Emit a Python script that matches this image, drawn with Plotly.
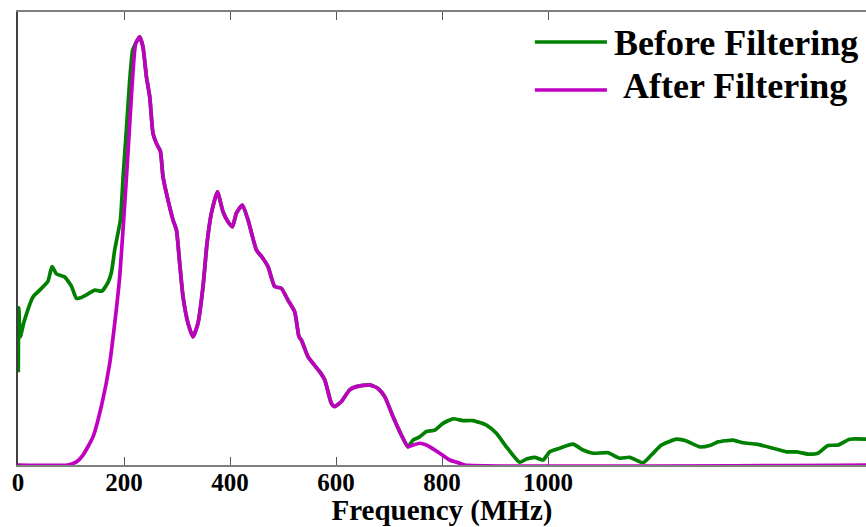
import plotly.graph_objects as go

# ---- data (frequency in MHz, normalized magnitude) ----
after_freq = [0, 94.3, 110.2, 122.6, 141.5, 158.5, 173.0, 182.5, 191.9, 199.4, 207.5, 215.1,
              222.1, 229.6, 235.8, 242.3, 248.5, 254.7, 261.1, 268.7, 273.6, 283.0, 292.5,
              298.9, 305.1, 311.3, 320.8, 330.2, 339.6, 349.1, 356.6, 364.9, 376.2, 386.8,
              396.2, 404.5, 412.1, 423.4, 434.0, 449.8, 462.3, 471.7, 484.3, 497.0, 509.4,
              522.1, 530.2, 534.7, 547.2, 569.2, 578.7, 591.3, 597.5, 610.2, 625.8, 638.5,
              663.6, 679.2, 691.9, 707.5, 723.4, 735.8, 745.3, 757.9, 770.6, 795.7, 814.5,
              833.4, 842.8, 1600]
after_mag = [0, 0, 0.007, 0.022, 0.062, 0.136, 0.224, 0.313, 0.416, 0.541, 0.689, 0.835,
             0.931, 0.945, 0.923, 0.857, 0.813, 0.732, 0.710, 0.692, 0.636, 0.585, 0.541,
             0.519, 0.445, 0.372, 0.313, 0.283, 0.313, 0.394, 0.489, 0.556, 0.603, 0.559,
             0.537, 0.526, 0.556, 0.574, 0.541, 0.475, 0.456, 0.438, 0.394, 0.390, 0.364,
             0.338, 0.283, 0.276, 0.239, 0.206, 0.188, 0.136, 0.129, 0.140, 0.166, 0.173,
             0.177, 0.169, 0.151, 0.107, 0.066, 0.040, 0.044, 0.048, 0.044, 0.026, 0.011,
             0.004, 0, 0]

before_freq_low = [0.5, 1.5, 4.2, 11.3, 28.3, 41.0, 56.6, 64.2, 72.5, 88.1, 100.8, 110.2,
                   119.6, 135.3, 144.7, 158.5, 169.8, 176.2, 182.5, 193.2, 198.5, 204.5,
                   210.8, 216.4]
before_mag_low = [0.205, 0.347, 0.283, 0.316, 0.371, 0.386, 0.406, 0.438, 0.422, 0.415,
                  0.395, 0.368, 0.370, 0.380, 0.386, 0.384, 0.403, 0.425, 0.475, 0.541,
                  0.640, 0.740, 0.850, 0.916]
before_freq_high = [745.3, 757.9, 770.6, 786.2, 801.9, 820.8, 839.6, 858.5, 883.8, 902.6,
                    921.5, 946.6, 959.2, 974.9, 990.6, 1003.2, 1022.1, 1047.2, 1066.0,
                    1084.9, 1113.2, 1135.3, 1154.2, 1179.2, 1195.1, 1214.0, 1242.3, 1261.1,
                    1286.2, 1305.1, 1320.8, 1349.1, 1367.9, 1393.2, 1424.5, 1449.8, 1468.7,
                    1490.6, 1509.4, 1528.3, 1547.2, 1569.2, 1600]
before_mag_high = [0.055, 0.062, 0.074, 0.077, 0.092, 0.102, 0.098, 0.098, 0.088, 0.070,
                   0.040, 0.006, 0.013, 0.017, 0.011, 0.029, 0.037, 0.046, 0.033, 0.026,
                   0.027, 0.015, 0.017, 0.005, 0.022, 0.044, 0.057, 0.053, 0.040, 0.043,
                   0.051, 0.055, 0.049, 0.046, 0.037, 0.029, 0.029, 0.024, 0.026, 0.043,
                   0.044, 0.057, 0.057]

# Before Filtering coincides with After Filtering between ~222 and ~736 MHz
mid_f = [f for f in after_freq if 222 <= f <= 736]
mid_m = [m for f, m in zip(after_freq, after_mag) if 222 <= f <= 736]
before_freq = before_freq_low + mid_f + before_freq_high
before_mag = before_mag_low + mid_m + before_mag_high

tick_vals = [0, 200, 400, 600, 800, 1000]
tick_text = ["0", "200", "400", "600", "800", "1000"]
legend_names = ["Before Filtering", "After Filtering"]

GREEN = "#008000"
MAGENTA = "#c000c0"
FONT = "Liberation Serif"

fig = go.Figure()
fig.add_trace(go.Scatter(x=before_freq, y=before_mag, mode="lines",
                         line=dict(color=GREEN, width=3.7, shape="spline", smoothing=0.5),
                         name=legend_names[0]))
fig.add_trace(go.Scatter(x=after_freq, y=after_mag, mode="lines",
                         line=dict(color=MAGENTA, width=3.7, shape="spline", smoothing=0.5),
                         name=legend_names[1]))

fig.update_layout(
    width=866, height=527,
    margin=dict(l=18, r=0, t=12, b=62),
    paper_bgcolor="white", plot_bgcolor="white",
    showlegend=False,
    font=dict(family=FONT, color="black"),
)
fig.update_xaxes(
    range=[0, 1600], tickvals=tick_vals, ticktext=tick_text,
    ticks="inside", ticklen=8, tickwidth=1, tickcolor="#555555",
    showline=True, linecolor="#808080", linewidth=2, mirror="ticks",
    showgrid=False, zeroline=False,
    ticklabelstandoff=-6,
    tickfont=dict(family=FONT, size=25, color="black", weight="bold"),
    title=dict(text="<b>Frequency (MHz)</b>", font=dict(family=FONT, size=29, color="black"),
               standoff=6),
)
fig.update_yaxes(
    range=[0, 1], showticklabels=False, ticks="",
    showline=True, linecolor="#404040", linewidth=1.5, mirror=False,
    showgrid=False, zeroline=False,
)

# manual legend
leg_y = [0.934, 0.828]
leg_ty = [0.932, 0.837]
leg_tx = [0.847, 0.8455]
for name, col, ly, ty, tx in zip(legend_names, [GREEN, MAGENTA], leg_y, leg_ty, leg_tx):
    fig.add_shape(type="line", xref="paper", yref="paper", x0=0.6095, x1=0.6945,
                  y0=ly, y1=ly, line=dict(color=col, width=3.5))
    fig.add_annotation(xref="paper", yref="paper", x=tx, y=ty, text="<b>%s</b>" % name,
                       showarrow=False, xanchor="center", yanchor="middle",
                       font=dict(family=FONT, size=36, color="black"))

fig.write_html("out.html")
